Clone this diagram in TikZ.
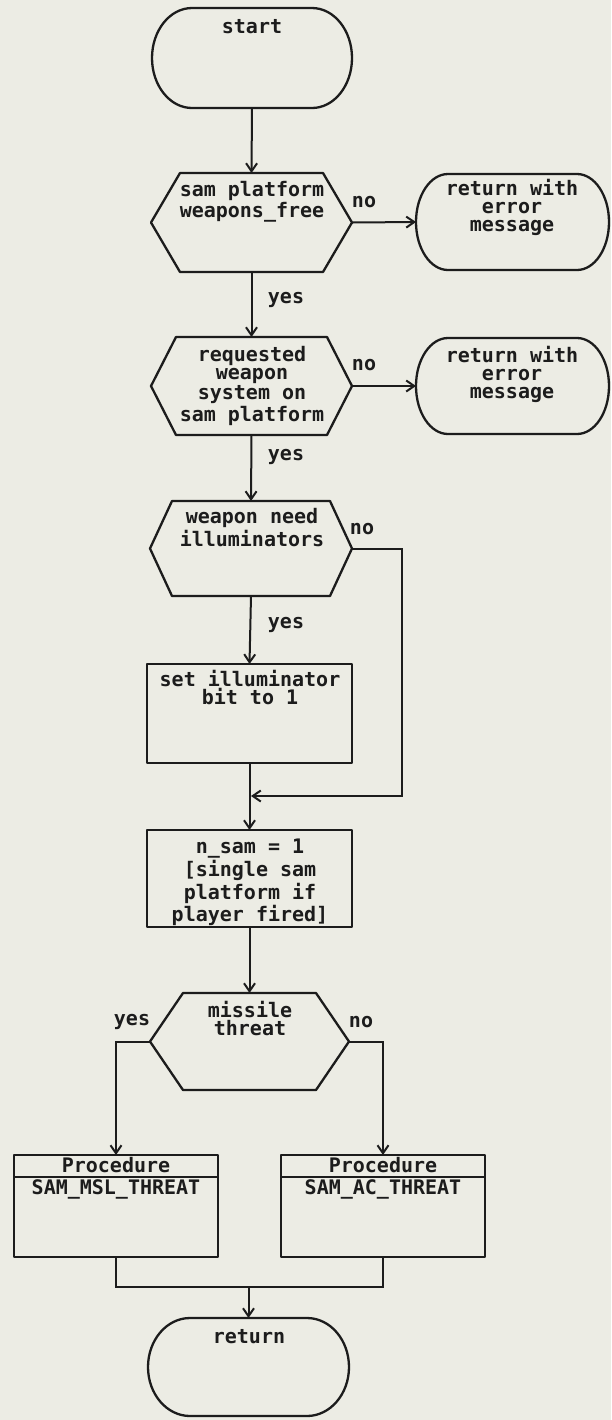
\documentclass[tikz,border=0pt]{standalone}
\usepackage{fontspec}
\setmonofont{DejaVu Sans Mono}
\usetikzlibrary{arrows.meta,calc}
\definecolor{bg}{RGB}{236,236,228}
\definecolor{ink}{RGB}{28,28,28}
\newcommand\tstrut{\rule{0pt}{8pt}}
% stadium: name, x0, y0, x1, y1, end radius
\newcommand\stadium[6]{%
  \node[shapebox, minimum width={(#4-#2)*0.5pt}, minimum height={(#5-#3)*0.5pt}] (#1) at ({(#2+#4)/2},{(#3+#5)/2}) {};
  \draw[shapeline] ({#2+#6},#3) -- ({#4-#6},#3)
     arc[start angle=90, end angle=-90, x radius={#6*0.5pt}, y radius={(#5-#3)*0.25pt}]
     -- ({#2+#6},#5)
     arc[start angle=270, end angle=90, x radius={#6*0.5pt}, y radius={(#5-#3)*0.25pt}] -- cycle;
}
% hexagon: name, x0, y0, x1, y1, slant
\newcommand\hexa[6]{%
  \node[shapebox, minimum width={(#4-#2)*0.5pt}, minimum height={(#5-#3)*0.5pt}] (#1) at ({(#2+#4)/2},{(#3+#5)/2}) {};
  \draw[shapeline] (#2,{(#3+#5)/2}) -- ({#2+#6},#3) -- ({#4-#6},#3) -- (#4,{(#3+#5)/2})
     -- ({#4-#6},#5) -- ({#2+#6},#5) -- cycle;
}
% plain box: name, x0, y0, x1, y1
\newcommand\pbox[5]{%
  \node[shapebox, shapeline, draw, minimum width={(#4-#2)*0.5pt}, minimum height={(#5-#3)*0.5pt}] (#1) at ({(#2+#4)/2},{(#3+#5)/2}) {};
}
\begin{document}
\begin{tikzpicture}[x=0.5pt,y=-0.5pt,
  shapebox/.style={rectangle, inner sep=0pt, outer sep=0pt, draw=none},
  shapeline/.style={draw=ink, line width=1.15pt, line join=round},
  txt/.style={font=\ttfamily\bfseries\fontsize{10}{9}\selectfont, text=ink, align=center, inner sep=0pt, anchor=north, execute at begin node=\tstrut},
  lbl/.style={font=\ttfamily\bfseries\fontsize{10}{9}\selectfont, text=ink, inner sep=0pt},
  conn/.style={draw=ink, line width=1pt},
  arr/.style={conn, -{Straight Barb[length=4pt,width=5.5pt,line width=1pt]}}
]
\fill[bg] (0,0) rectangle (611,1420);
\useasboundingbox (0,0) rectangle (611,1420);

% shapes
\stadium{start}{152}{8}{352}{108}{40}
\hexa{h1}{151}{173}{352}{272}{29}
\stadium{t1}{416}{174}{609}{270}{32}
\hexa{h2}{151}{337}{352}{435}{25}
\stadium{t2}{416}{338}{609}{434}{32}
\hexa{h3}{150}{501}{352}{596}{22}
\pbox{r1}{147}{664}{352}{763}
\pbox{r2}{147}{830}{352}{927}
\hexa{h4}{150}{993}{349}{1090}{33}
\pbox{p1}{14}{1155}{218}{1257}
\pbox{p2}{281}{1155}{485}{1257}
\draw[shapeline] (p1.west |- 0,1177) -- (p1.east |- 0,1177);
\draw[shapeline] (p2.west |- 0,1177) -- (p2.east |- 0,1177);
\stadium{ret}{148}{1318}{349}{1416}{42}

% texts
\node[txt] (start-t) at (252,17) {start};
\node[txt] (h1-t) at (252,181) {sam platform\\weapons\_free};
\node[txt] (t1-t) at (512,179) {return with\\error\\message};
\node[txt] (h2-t) at (252,346) {requested\\weapon\\system on\\sam platform};
\node[txt] (t2-t) at (512,346) {return with\\error\\message};
\node[txt] (h3-t) at (252,508) {weapon need\\illuminators};
\node[txt] (r1-t) at (250,670) {set illuminator\\bit to 1};
\node[txt] (r2-t) at (250,839) {n\_sam = 1\\{[}single sam\\platform if\\player fired{]}};
\node[txt] (h4-t) at (250,1001) {missile\\threat};
\node[txt] (p1-a) at (116,1156) {Procedure};
\node[txt] (p1-b) at (116,1178) {SAM\_MSL\_THREAT};
\node[txt] (p2-a) at (383,1156) {Procedure};
\node[txt] (p2-b) at (383,1178) {SAM\_AC\_THREAT};
\node[txt] (ret-t) at (249,1327) {return};

% connectors
\draw[arr] (start.south) -- (h1.north);
\draw[arr] (h1.east) -- (t1.west);
\node[lbl] (no1) at (364,202) {no};
\draw[arr] (h1.south) -- (h2.north);
\node[lbl] (yes1) at (286,300) {yes};
\draw[arr] (h2.east) -- (t2.west);
\node[lbl] (no2) at (364,365) {no};
\draw[arr] (h2.south) -- (h3.north);
\node[lbl] (yes2) at (286,457) {yes};
\draw[arr] (h3.south) -- (r1.north);
\node[lbl] (yes3) at (286,625) {yes};
\node[lbl] (no3) at (362,529) {no};
\coordinate (m) at (251,796);
\coordinate (bx) at (402,796);
\draw[arr] (h3.east) -| (bx) -- (m);
\draw[arr] (r1.south) -- (r2.north);
\draw[arr] (r2.south) -- (h4.north);
\draw[arr] (h4.west) -| (p1.north);
\node[lbl] (yes4) at (132,1022) {yes};
\draw[arr] (h4.east) -| (p2.north);
\node[lbl] (no4) at (361,1022) {no};
\coordinate (jl) at (116,1287);
\coordinate (jr) at (383,1287);
\draw[conn] (p1.south) -- (jl) -- (jr) -- (p2.south);
\draw[arr] (ret.north |- jl) -- (ret.north);
\end{tikzpicture}
\end{document}
